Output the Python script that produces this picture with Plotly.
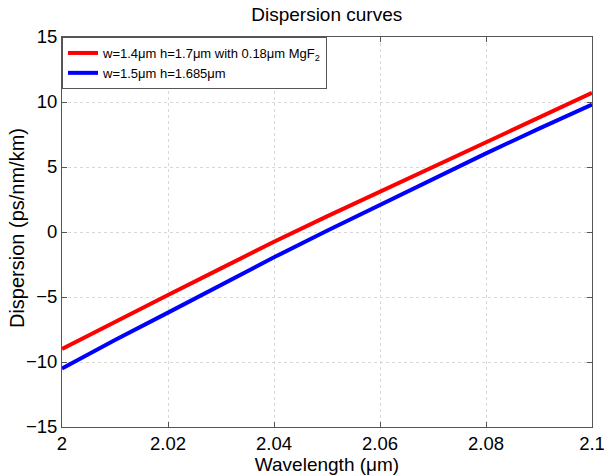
import plotly.graph_objects as go

wavelength = [2.00, 2.01, 2.02, 2.03, 2.04, 2.05, 2.06, 2.07, 2.08, 2.09, 2.10]
disp_mgf2 = [-9.0, -6.9, -4.85, -2.8, -0.75, 1.2, 3.1, 5.05, 6.95, 8.85, 10.7]
disp_plain = [-10.5, -8.3, -6.2, -4.05, -1.95, 0.1, 2.1, 4.1, 6.05, 7.95, 9.8]

name_mgf2 = "w=1.4μm h=1.7μm with 0.18μm MgF<sub>2</sub>"
name_plain = "w=1.5μm h=1.685μm"

x_ticks = [2.0, 2.02, 2.04, 2.06, 2.08, 2.1]
x_tick_text = ["2", "2.02", "2.04", "2.06", "2.08", "2.1"]
y_ticks = [-15, -10, -5, 0, 5, 10, 15]

fig = go.Figure()
fig.add_trace(go.Scatter(x=wavelength, y=disp_mgf2, mode="lines", name=name_mgf2,
                         line=dict(color="#ff0000", width=4)))
fig.add_trace(go.Scatter(x=wavelength, y=disp_plain, mode="lines", name=name_plain,
                         line=dict(color="#0000ff", width=4)))

axis_common = dict(
    showline=True, linecolor="#555555", linewidth=1, mirror="ticks",
    ticks="inside", ticklen=5, tickcolor="#555555",
    showgrid=True, gridcolor="#d8d8d8", griddash="dot", gridwidth=1,
    zeroline=False, tickfont=dict(size=18.5, color="#000000"),
    automargin=False, ticklabeloverflow="allow",
)

fig.update_layout(
    width=604, height=476,
    margin=dict(l=62, r=12, t=37, b=49),
    paper_bgcolor="white", plot_bgcolor="white",
    font=dict(family="Liberation Sans, Arial, sans-serif", color="#000000"),
    title=dict(text="Dispersion curves", x=0.541, xanchor="center", y=0.97, yanchor="middle",
               font=dict(size=19, color="#000000")),
    xaxis=dict(range=[2.0, 2.100001], tickvals=x_ticks, ticktext=x_tick_text,
               title=dict(text="Wavelength (μm)", font=dict(size=19), standoff=0),
               **axis_common),
    yaxis=dict(range=[-15, 15], tickvals=y_ticks, **axis_common),
    legend=dict(x=0, y=1, xanchor="left", yanchor="top", bgcolor="white",
                bordercolor="#555555", borderwidth=1, font=dict(size=13),
                tracegroupgap=0, itemwidth=30),
    showlegend=True,
    annotations=[dict(text="Dispersion (ps/nm/km)", textangle=-90, showarrow=False,
                      xref="paper", yref="paper", x=-0.085, y=0.51,
                      xanchor="center", yanchor="middle", font=dict(size=20))],
)

fig.write_html("out.html", post_script="document.body.style.margin='0';",
               config={"displayModeBar": False})
